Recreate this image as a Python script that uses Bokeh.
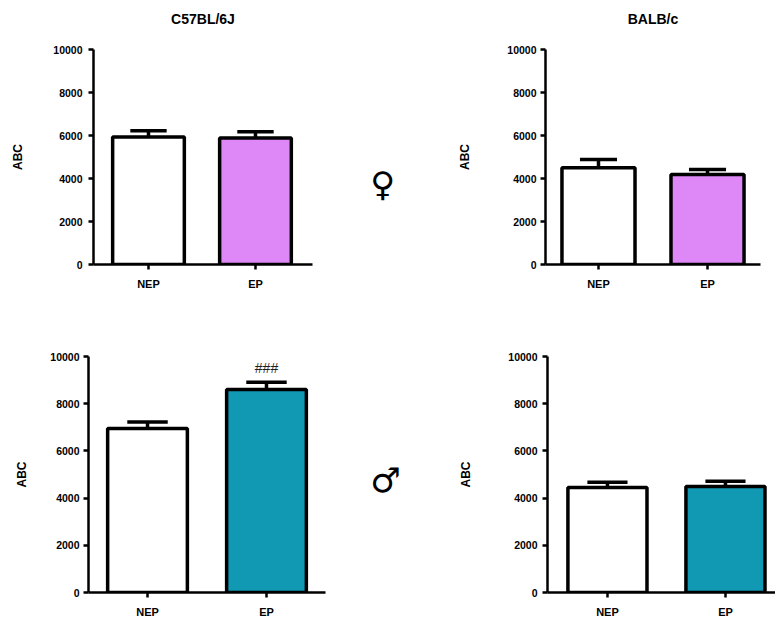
from bokeh.plotting import figure
from bokeh.layouts import column, row
from bokeh.models import Range1d, FixedTicker
from bokeh.core.properties import value
from bokeh.embed import file_html
from bokeh.resources import INLINE
import numpy as np

# ---- data ----
groups = ["NEP", "EP"]
y_ticks = [0, 2000, 4000, 6000, 8000, 10000]
strains = ["C57BL/6J", "BALB/c"]
sex_symbols = ["\u2640", "\u2642"]

female_c57_mean = [5930, 5880]
female_c57_err = [290, 300]
female_balb_mean = [4500, 4190]
female_balb_err = [380, 230]
male_c57_mean = [6950, 8600]
male_c57_err = [270, 310]
male_balb_mean = [4450, 4490]
male_balb_err = [225, 225]

female_colors = ["#FFFFFF", "#DD88F6"]
male_colors = ["#FFFFFF", "#1199B4"]

FONT = "Liberation Sans"


def panel(means, errs, colors, width, height, bl, br, bt, bb, xr, lab_standoff, tick_standoff):
    p = figure(width=width, height=height, x_range=Range1d(*xr), y_range=Range1d(0, 10000),
               output_backend="svg", toolbar_location=None,
               min_border_left=bl, min_border_right=br, min_border_top=bt, min_border_bottom=bb,
               outline_line_color=None)
    p.xgrid.visible = False
    p.ygrid.visible = False
    xs = np.arange(1, len(groups) + 1)
    means = np.array(means, dtype=float)
    tops = means + np.array(errs, dtype=float)
    p.vbar(x=xs, top=means, bottom=0, width=0.67, fill_color=colors,
           line_color="black", line_width=3.5)
    p.segment(x0=xs, y0=means, x1=xs, y1=tops, line_color="black", line_width=3.5)
    p.segment(x0=xs - 0.17, y0=tops, x1=xs + 0.17, y1=tops, line_color="black", line_width=3.5)

    for ax in (p.xaxis, p.yaxis):
        ax.axis_line_width = 2.5
        ax.axis_line_color = "black"
        ax.major_tick_line_width = 2.5
        ax.major_tick_line_color = "black"
        ax.major_tick_out = 5
        ax.major_tick_in = 0
        ax.minor_tick_out = 0
        ax.minor_tick_in = 0
        ax.major_label_text_font = FONT
        ax.major_label_text_font_style = "bold"
        ax.major_label_text_color = "black"
    p.yaxis.ticker = FixedTicker(ticks=y_ticks)
    p.yaxis.major_label_text_font_size = "10.5px"
    p.yaxis.major_label_standoff = tick_standoff
    p.yaxis.axis_label = "ABC"
    p.yaxis.axis_label_text_font = FONT
    p.yaxis.axis_label_text_font_style = "bold"
    p.yaxis.axis_label_text_font_size = "12px"
    p.yaxis.axis_label_text_color = "black"
    p.yaxis.axis_label_standoff = lab_standoff
    p.xaxis.ticker = FixedTicker(ticks=list(xs))
    p.xaxis.major_label_overrides = {int(x): g for x, g in zip(xs, groups)}
    p.xaxis.major_label_text_font_size = "11px"
    p.xaxis.major_label_standoff = 8
    return p


def textbox(txt, width, height, fx, fy, font, size, bold=False):
    m = figure(width=width, height=height, x_range=Range1d(0, 1), y_range=Range1d(0, 1),
               output_backend="svg", toolbar_location=None, x_axis_type=None, y_axis_type=None,
               min_border_left=0, min_border_right=0, min_border_top=0, min_border_bottom=0,
               outline_line_color=None)
    m.xgrid.visible = False
    m.ygrid.visible = False
    if txt:
        m.text(x=[fx], y=[fy], text=[txt], text_font=value(font), text_font_size=size,
               text_font_style="bold" if bold else "normal",
               text_align="center", text_baseline="middle", text_color="black")
    return m


# title row (36 px high)
t1 = textbox(strains[0], 340, 36, 202.5 / 340, 0.5, FONT, "14px", bold=True)
t0 = textbox(None, 90, 36, 0.5, 0.5, FONT, "14px")
t2 = textbox(strains[1], 345, 36, 222.5 / 345, 0.5, FONT, "14px", bold=True)

f1 = panel(female_c57_mean, female_c57_err, female_colors,
           340, 264, 93, 28, 13, 36, (0.486, 2.533), 25, 6)
f2 = panel(female_balb_mean, female_balb_err, female_colors,
           345, 264, 115, 15, 13, 36, (0.514, 2.486), 32, 4)
f3 = panel(male_c57_mean, male_c57_err, male_colors,
           340, 321, 88, 15, 56, 29, (0.504, 2.496), 18, 4)
f4 = panel(male_balb_mean, male_balb_err, male_colors,
           345, 321, 117, 0, 56, 29, (0.492, 2.424), 32, 5)

f3.text(x=[2], y=[9530], text=["###"], text_font=value(FONT), text_font_size="14px",
        text_align="center", text_baseline="middle", text_color="#222222")

m1 = textbox(sex_symbols[0], 90, 264, 0.47, 0.375, "DejaVu Sans", "34px")
m2 = textbox(sex_symbols[1], 90, 321, 0.50, 0.478, "DejaVu Sans", "34px")

layout = column(row(t1, t0, t2), row(f1, m1, f2), row(f3, m2, f4))

open("out.html", "w").write(file_html(layout, INLINE))
